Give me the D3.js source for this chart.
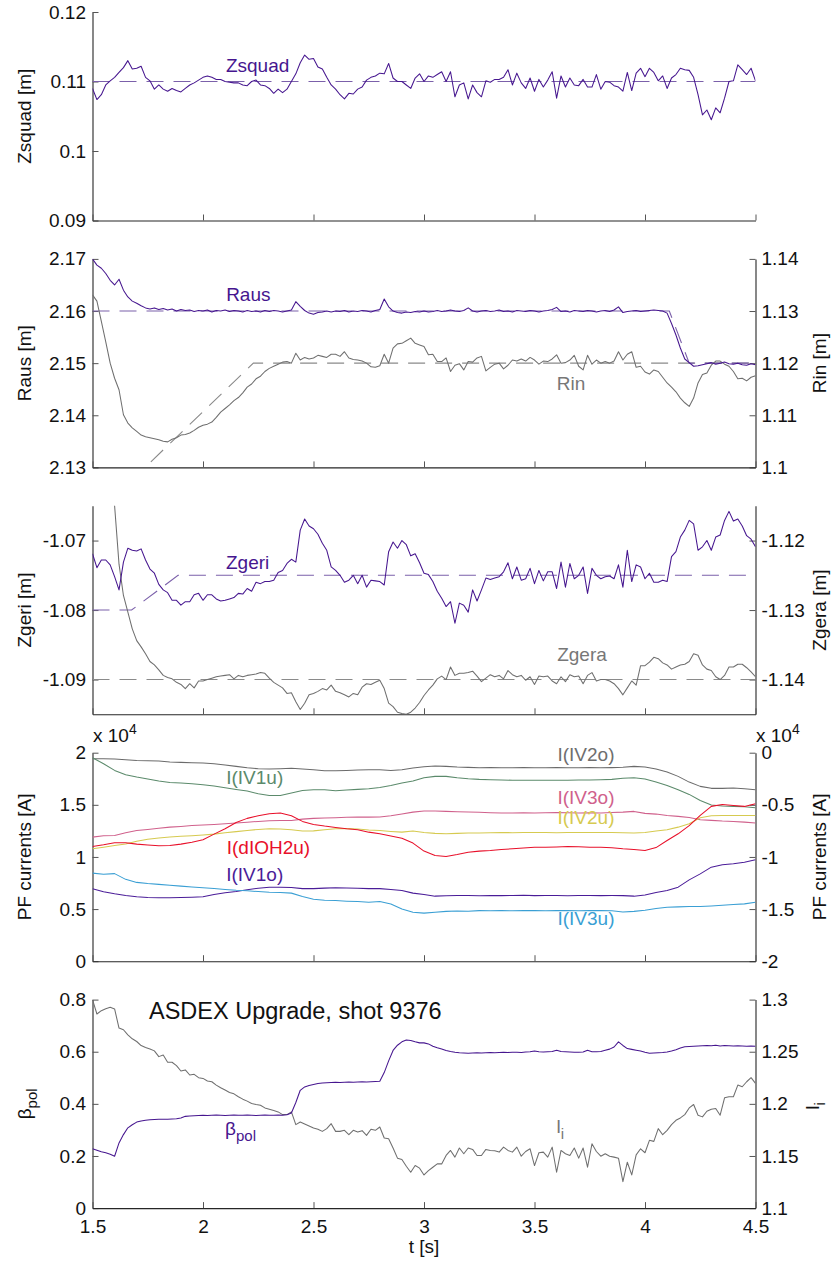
<!DOCTYPE html>
<html><head><meta charset="utf-8">
<script src="https://cdn.jsdelivr.net/npm/d3@7"></script>
<style>
body{margin:0;background:#fff}
svg{display:block}
text{font-family:"Liberation Sans",Arial,Helvetica,sans-serif}
</style>
</head><body>
<svg id="c" width="831" height="1263"></svg>
<script>
// ---------------- DATA ----------------
// time samples (s)
const tFine = d3.range(151).map(i => +(1.5 + i * 0.02).toFixed(2));
const tPF = d3.range(61).map(i => +(1.5 + i * 0.05).toFixed(2));
const xTicks = [1.5, 2, 2.5, 3, 3.5, 4, 4.5];

// Panel 1
const zsquad = [0.1090,0.1074,0.1081,0.1095,0.1101,0.1106,0.1113,0.1120,0.1130,0.1118,0.1119,0.1122,0.1106,0.1101,0.1089,0.1095,0.1089,0.1086,0.1090,0.1087,
0.1085,0.1090,0.1095,0.1098,0.1102,0.1106,0.1108,0.1106,0.1103,0.1103,0.1100,0.1099,0.1098,0.1098,0.1095,0.1094,0.1100,0.1102,0.1095,0.1094,
0.1090,0.1083,0.1089,0.1084,0.1089,0.1100,0.1111,0.1127,0.1138,0.1132,0.1133,0.1121,0.1118,0.1106,0.1095,0.1089,0.1081,0.1075,0.1083,0.1082,
0.1089,0.1092,0.1102,0.1106,0.1108,0.1112,0.1111,0.1126,0.1105,0.1100,0.1100,0.1095,0.1090,0.1105,0.1111,0.1100,0.1108,0.1106,0.1110,0.1114,
0.1100,0.1114,0.1078,0.1095,0.1098,0.1075,0.1095,0.1084,0.1078,0.1101,0.1099,0.1103,0.1103,0.1106,0.1117,0.1095,0.1112,0.1098,0.1090,0.1105,
0.1086,0.1103,0.1092,0.1102,0.1114,0.1076,0.1108,0.1092,0.1105,0.1095,0.1094,0.1103,0.1092,0.1092,0.1110,0.1089,0.1100,0.1099,0.1094,0.1092,
0.1086,0.1113,0.1087,0.1112,0.1119,0.1107,0.1119,0.1113,0.1101,0.1108,0.1090,0.1105,0.1110,0.1119,0.1117,0.1116,0.1106,0.1081,0.1052,0.1059,
0.1045,0.1062,0.1055,0.1076,0.1100,0.1101,0.1124,0.1117,0.1110,0.1119,0.1101];
const zsquadRef = [[1.5, 0.11], [4.5, 0.11]];

// Panel 2
const raus = [2.1700,2.1688,2.1682,2.1672,2.1659,2.1650,2.1661,2.1640,2.1627,2.1619,2.1615,2.1610,2.1606,2.1604,2.1606,2.1603,2.1605,2.1602,2.1604,2.1600,
2.1603,2.1601,2.1602,2.1599,2.1601,2.1600,2.1602,2.1598,2.1601,2.1600,2.1602,2.1599,2.1601,2.1600,2.1598,2.1601,2.1599,2.1600,2.1598,2.1601,
2.1599,2.1601,2.1600,2.1598,2.1600,2.1602,2.1618,2.1609,2.1601,2.1596,2.1594,2.1597,2.1598,2.1600,2.1598,2.1600,2.1599,2.1601,2.1598,2.1600,
2.1599,2.1601,2.1600,2.1598,2.1601,2.1603,2.1623,2.1608,2.1600,2.1597,2.1596,2.1598,2.1597,2.1599,2.1598,2.1600,2.1598,2.1599,2.1601,2.1599,
2.1600,2.1602,2.1600,2.1599,2.1601,2.1606,2.1600,2.1598,2.1600,2.1601,2.1599,2.1600,2.1602,2.1599,2.1600,2.1598,2.1601,2.1600,2.1599,2.1601,
2.1600,2.1598,2.1600,2.1601,2.1603,2.1607,2.1599,2.1600,2.1598,2.1601,2.1600,2.1599,2.1601,2.1600,2.1598,2.1600,2.1601,2.1599,2.1602,2.1608,
2.1597,2.1599,2.1600,2.1601,2.1599,2.1600,2.1601,2.1602,2.1601,2.1600,2.1596,2.1576,2.1554,2.1529,2.1508,2.1501,2.1494,2.1495,2.1497,2.1499,
2.1501,2.1498,2.1500,2.1502,2.1499,2.1498,2.1500,2.1497,2.1496,2.1499,2.1497];
const rin = [1.1331,1.1319,1.1280,1.1241,1.1200,1.1171,1.1149,1.1101,1.1085,1.1076,1.1069,1.1062,1.1059,1.1057,1.1055,1.1053,1.1050,1.1049,1.1054,1.1057,
1.1062,1.1063,1.1066,1.1071,1.1077,1.1081,1.1083,1.1087,1.1096,1.1106,1.1113,1.1120,1.1128,1.1134,1.1143,1.1154,1.1160,1.1170,1.1175,1.1184,
1.1190,1.1194,1.1198,1.1202,1.1203,1.1200,1.1219,1.1206,1.1211,1.1208,1.1210,1.1215,1.1213,1.1211,1.1217,1.1217,1.1213,1.1222,1.1210,1.1207,
1.1206,1.1204,1.1200,1.1193,1.1192,1.1195,1.1217,1.1200,1.1229,1.1237,1.1238,1.1243,1.1248,1.1238,1.1235,1.1232,1.1216,1.1217,1.1203,1.1203,
1.1210,1.1184,1.1196,1.1199,1.1187,1.1203,1.1202,1.1210,1.1213,1.1185,1.1192,1.1198,1.1200,1.1189,1.1196,1.1206,1.1204,1.1208,1.1204,1.1211,
1.1206,1.1198,1.1204,1.1203,1.1208,1.1216,1.1200,1.1201,1.1206,1.1215,1.1194,1.1187,1.1215,1.1198,1.1206,1.1200,1.1203,1.1200,1.1204,1.1222,
1.1206,1.1217,1.1222,1.1192,1.1194,1.1183,1.1179,1.1187,1.1184,1.1173,1.1162,1.1154,1.1145,1.1133,1.1124,1.1117,1.1133,1.1162,1.1178,1.1181,
1.1196,1.1204,1.1204,1.1198,1.1194,1.1184,1.1170,1.1171,1.1166,1.1173,1.1176];
const rausRef = [[1.5, 2.16], [4.11, 2.16], [4.2, 2.15], [4.5, 2.15]];
const rinRef = [[1.5, 1.0903], [2.228, 1.12], [4.5, 1.12]];

// Panel 3
const zgeri = [-1.0719,-1.0739,-1.0728,-1.0728,-1.0735,-1.0752,-1.0771,-1.0731,-1.0711,-1.0714,-1.0715,-1.0712,-1.0728,-1.0741,-1.0747,-1.0763,-1.0771,-1.0775,-1.0786,-1.0786,
-1.0793,-1.0788,-1.0788,-1.0778,-1.0776,-1.0786,-1.0778,-1.0778,-1.0784,-1.0787,-1.0786,-1.0784,-1.0782,-1.0776,-1.0777,-1.0769,-1.0773,-1.0760,-1.0762,-1.0759,
-1.0759,-1.0757,-1.0746,-1.0743,-1.0733,-1.0727,-1.0731,-1.0685,-1.0669,-1.0679,-1.0683,-1.0691,-1.0704,-1.0714,-1.0738,-1.0743,-1.0750,-1.0760,-1.0757,-1.0750,
-1.0762,-1.0750,-1.0767,-1.0757,-1.0758,-1.0759,-1.0764,-1.0716,-1.0702,-1.0711,-1.0700,-1.0706,-1.0722,-1.0719,-1.0732,-1.0747,-1.0749,-1.0759,-1.0773,-1.0783,
-1.0795,-1.0788,-1.0819,-1.0790,-1.0793,-1.0803,-1.0771,-1.0787,-1.0771,-1.0754,-1.0756,-1.0754,-1.0752,-1.0745,-1.0732,-1.0755,-1.0738,-1.0757,-1.0755,-1.0740,
-1.0762,-1.0743,-1.0758,-1.0745,-1.0745,-1.0769,-1.0731,-1.0767,-1.0733,-1.0755,-1.0750,-1.0738,-1.0776,-1.0740,-1.0750,-1.0755,-1.0752,-1.0751,-1.0755,-1.0735,
-1.0767,-1.0714,-1.0759,-1.0735,-1.0738,-1.0755,-1.0747,-1.0760,-1.0760,-1.0757,-1.0759,-1.0723,-1.0716,-1.0695,-1.0685,-1.0671,-1.0676,-1.0714,-1.0709,-1.0700,
-1.0714,-1.0695,-1.0692,-1.0671,-1.0658,-1.0672,-1.0669,-1.0679,-1.0693,-1.0698,-1.0709];
const zgera = [-1.1000,-1.1040,-1.1080,-1.1110,-1.1130,-1.1150,-1.1234,-1.1279,-1.1303,-1.1327,-1.1344,-1.1353,-1.1363,-1.1374,-1.1379,-1.1386,-1.1394,-1.1397,-1.1399,-1.1404,
-1.1407,-1.1413,-1.1406,-1.1412,-1.1402,-1.1402,-1.1400,-1.1398,-1.1396,-1.1395,-1.1394,-1.1393,-1.1399,-1.1394,-1.1396,-1.1394,-1.1393,-1.1392,-1.1390,-1.1391,
-1.1398,-1.1404,-1.1408,-1.1412,-1.1420,-1.1419,-1.1432,-1.1443,-1.1434,-1.1422,-1.1420,-1.1417,-1.1413,-1.1415,-1.1408,-1.1417,-1.1419,-1.1422,-1.1425,-1.1420,
-1.1422,-1.1411,-1.1406,-1.1407,-1.1404,-1.1401,-1.1413,-1.1434,-1.1439,-1.1447,-1.1449,-1.1450,-1.1447,-1.1441,-1.1433,-1.1423,-1.1415,-1.1408,-1.1399,-1.1395,
-1.1400,-1.1382,-1.1394,-1.1391,-1.1391,-1.1390,-1.1388,-1.1395,-1.1403,-1.1398,-1.1393,-1.1396,-1.1394,-1.1399,-1.1387,-1.1393,-1.1396,-1.1394,-1.1401,-1.1396,
-1.1407,-1.1395,-1.1396,-1.1395,-1.1402,-1.1406,-1.1396,-1.1403,-1.1393,-1.1396,-1.1395,-1.1406,-1.1394,-1.1390,-1.1402,-1.1400,-1.1400,-1.1402,-1.1406,-1.1413,
-1.1422,-1.1412,-1.1402,-1.1408,-1.1380,-1.1380,-1.1375,-1.1368,-1.1370,-1.1376,-1.1379,-1.1385,-1.1382,-1.1379,-1.1378,-1.1374,-1.1363,-1.1365,-1.1379,-1.1385,
-1.1387,-1.1396,-1.1400,-1.1394,-1.1382,-1.1382,-1.1378,-1.1378,-1.1383,-1.1389,-1.1396];
const zgeriRef = [[1.5, -1.08], [1.677, -1.08], [1.887, -1.075], [4.5, -1.075]];
const zgeraRef = [[1.5, -1.14], [4.5, -1.14]];

// Panel 4 (units of 10^4 A)
const iIV2o = [-0.058,-0.058,-0.061,-0.067,-0.074,-0.077,-0.080,-0.090,-0.093,-0.096,-0.099,-0.106,-0.118,-0.131,-0.144,-0.154,-0.157,-0.154,-0.150,-0.157,
-0.163,-0.173,-0.173,-0.170,-0.166,-0.163,-0.163,-0.170,-0.163,-0.147,-0.134,-0.128,-0.131,-0.138,-0.141,-0.144,-0.143,-0.145,-0.144,-0.142,
-0.144,-0.145,-0.143,-0.144,-0.144,-0.142,-0.144,-0.143,-0.140,-0.131,-0.138,-0.157,-0.186,-0.227,-0.282,-0.323,-0.342,-0.342,-0.339,-0.346,-0.355];
const iIV1u = [1.952,1.894,1.830,1.789,1.766,1.747,1.728,1.715,1.709,1.702,1.693,1.680,1.664,1.648,1.632,1.606,1.590,1.590,1.613,1.638,
1.645,1.645,1.635,1.642,1.648,1.654,1.667,1.686,1.709,1.728,1.760,1.773,1.773,1.760,1.750,1.744,1.741,1.738,1.736,1.735,
1.735,1.736,1.735,1.736,1.738,1.738,1.741,1.744,1.754,1.760,1.747,1.718,1.686,1.645,1.600,1.542,1.498,1.488,1.485,1.482,1.472];
const iIV3o = [-0.810,-0.797,-0.794,-0.768,-0.746,-0.736,-0.725,-0.714,-0.707,-0.699,-0.694,-0.688,-0.682,-0.675,-0.667,-0.659,-0.653,-0.650,-0.650,-0.637,
-0.630,-0.627,-0.624,-0.620,-0.618,-0.618,-0.616,-0.605,-0.587,-0.570,-0.560,-0.560,-0.563,-0.566,-0.569,-0.572,-0.576,-0.579,-0.579,-0.577,
-0.579,-0.576,-0.573,-0.576,-0.579,-0.576,-0.579,-0.573,-0.570,-0.563,-0.582,-0.589,-0.602,-0.611,-0.621,-0.643,-0.649,-0.656,-0.659,-0.666,-0.675];
const iIV2u = [-0.922,-0.906,-0.890,-0.875,-0.850,-0.830,-0.818,-0.808,-0.802,-0.797,-0.790,-0.781,-0.768,-0.757,-0.746,-0.736,-0.730,-0.732,-0.740,-0.752,
-0.750,-0.740,-0.730,-0.727,-0.732,-0.742,-0.746,-0.755,-0.762,-0.752,-0.765,-0.774,-0.778,-0.774,-0.771,-0.770,-0.768,-0.766,-0.767,-0.766,
-0.765,-0.766,-0.767,-0.766,-0.765,-0.766,-0.766,-0.766,-0.768,-0.771,-0.765,-0.752,-0.739,-0.714,-0.682,-0.624,-0.605,-0.602,-0.602,-0.602,-0.602];
const iDIOH2u = [1.101,1.117,1.136,1.136,1.123,1.114,1.107,1.110,1.123,1.142,1.165,1.219,1.270,1.331,1.370,1.395,1.414,1.421,1.395,1.341,
1.312,1.296,1.283,1.270,1.261,1.238,1.222,1.200,1.180,1.133,1.056,1.014,1.005,1.024,1.046,1.056,1.062,1.072,1.078,1.086,
1.094,1.094,1.096,1.100,1.097,1.094,1.094,1.088,1.078,1.072,1.062,1.090,1.158,1.222,1.300,1.398,1.485,1.504,1.494,1.485,1.510];
const iIV1o = [0.694,0.666,0.646,0.630,0.618,0.611,0.608,0.608,0.611,0.614,0.618,0.640,0.656,0.668,0.685,0.700,0.710,0.710,0.707,0.696,
0.696,0.701,0.704,0.703,0.700,0.696,0.696,0.688,0.678,0.653,0.640,0.624,0.627,0.630,0.630,0.628,0.631,0.629,0.630,0.632,
0.629,0.630,0.631,0.628,0.630,0.631,0.629,0.630,0.629,0.624,0.635,0.660,0.678,0.710,0.780,0.838,0.902,0.925,0.934,0.950,0.973];
const iIV3u = [-1.155,-1.166,-1.160,-1.215,-1.244,-1.255,-1.263,-1.272,-1.280,-1.289,-1.296,-1.303,-1.312,-1.320,-1.325,-1.332,-1.338,-1.341,-1.347,-1.380,
-1.405,-1.415,-1.418,-1.424,-1.428,-1.434,-1.428,-1.452,-1.500,-1.530,-1.539,-1.530,-1.522,-1.518,-1.520,-1.515,-1.517,-1.514,-1.516,-1.515,
-1.513,-1.516,-1.515,-1.514,-1.516,-1.515,-1.514,-1.516,-1.528,-1.522,-1.512,-1.495,-1.482,-1.479,-1.476,-1.475,-1.470,-1.463,-1.456,-1.450,-1.434];

// Panel 5
const betaPol = [0.228,0.222,0.216,0.212,0.207,0.199,0.250,0.282,0.308,0.320,0.330,0.334,0.337,0.339,0.340,0.341,0.341,0.341,0.342,0.343,
0.346,0.352,0.353,0.354,0.355,0.356,0.355,0.356,0.357,0.356,0.355,0.356,0.357,0.356,0.356,0.357,0.356,0.355,0.356,0.357,
0.356,0.356,0.357,0.356,0.358,0.365,0.405,0.452,0.465,0.470,0.474,0.478,0.480,0.481,0.482,0.483,0.482,0.483,0.484,0.483,
0.484,0.485,0.484,0.485,0.486,0.487,0.520,0.565,0.605,0.625,0.638,0.645,0.643,0.638,0.634,0.634,0.630,0.621,0.615,0.610,
0.605,0.601,0.598,0.596,0.595,0.594,0.595,0.596,0.595,0.596,0.597,0.596,0.597,0.598,0.597,0.598,0.598,0.597,0.599,0.600,
0.603,0.600,0.599,0.600,0.601,0.606,0.601,0.600,0.599,0.598,0.598,0.599,0.606,0.600,0.600,0.601,0.606,0.610,0.618,0.638,
0.624,0.612,0.609,0.606,0.603,0.598,0.594,0.595,0.596,0.597,0.599,0.603,0.608,0.614,0.619,0.620,0.621,0.622,0.623,0.624,
0.623,0.625,0.622,0.624,0.623,0.622,0.623,0.622,0.621,0.622,0.621];
const li = [1.3000,1.2862,1.2894,1.2913,1.2926,1.2910,1.2727,1.2711,1.2662,1.2624,1.2598,1.2559,1.2540,1.2527,1.2508,1.2453,1.2469,1.2399,1.2399,1.2367,
1.2315,1.2325,1.2277,1.2283,1.2251,1.2244,1.2219,1.2212,1.2180,1.2154,1.2132,1.2109,1.2096,1.2068,1.2045,1.2026,1.2003,1.1994,1.1987,1.1961,
1.1949,1.1936,1.1923,1.1897,1.1897,1.1923,1.1801,1.1826,1.1807,1.1788,1.1768,1.1756,1.1736,1.1762,1.1810,1.1736,1.1736,1.1746,1.1704,1.1746,
1.1730,1.1743,1.1698,1.1756,1.1746,1.1778,1.1672,1.1666,1.1576,1.1479,1.1466,1.1402,1.1344,1.1408,1.1383,1.1318,1.1360,1.1392,1.1424,1.1424,
1.1505,1.1553,1.1489,1.1576,1.1521,1.1576,1.1563,1.1505,1.1505,1.1563,1.1553,1.1550,1.1537,1.1585,1.1553,1.1537,1.1585,1.1498,1.1543,1.1569,
1.1408,1.1531,1.1537,1.1489,1.1585,1.1344,1.1553,1.1521,1.1505,1.1576,1.1479,1.1576,1.1392,1.1617,1.1543,1.1498,1.1521,1.1498,1.1489,1.1479,
1.1254,1.1440,1.1318,1.1511,1.1569,1.1531,1.1650,1.1640,1.1762,1.1704,1.1746,1.1801,1.1842,1.1865,1.1897,1.1961,1.1994,1.1891,1.1875,1.1929,
1.1949,1.1955,1.1891,1.2058,1.2068,1.2068,1.2180,1.2164,1.2212,1.2251,1.2196];

// Tick values per panel
const ticksZsquad = [0.09, 0.1, 0.11, 0.12];
const ticksRaus = [2.13, 2.14, 2.15, 2.16, 2.17];
const ticksRin = [1.1, 1.11, 1.12, 1.13, 1.14];
const ticksZgeri = [-1.09, -1.08, -1.07];
const ticksZgera = [-1.14, -1.13, -1.12];
const ticksPFL = [0, 0.5, 1, 1.5, 2];
const ticksPFR = [-2, -1.5, -1, -0.5, 0];
const ticksBeta = [0, 0.2, 0.4, 0.6, 0.8];
const ticksLi = [1.1, 1.15, 1.2, 1.25, 1.3];

// ---------------- STYLE / LAYOUT ----------------
const PURPLE = '#46168f', GRAY = '#6f6f6f', PURPLE_D = '#7b60aa', GRAY_D = '#8a8a8a';
const C = {IV2o:'#6b6b6b', IV1u:'#5b8a6b', IV3o:'#d0618c', IV2u:'#d6ca50', dIOH2u:'#e8102a', IV1o:'#4a1c98', IV3u:'#3a9fd4'};
const L = 92.5, R = 755.5, PH = 208.5;
const FS = 19;

const panels = [
  {top:12,    yL:[0.09,0.12],     tL:ticksZsquad, lab:'Zsquad [m]'},
  {top:258.9, yL:[2.13,2.17],     tL:ticksRaus,   lab:'Raus [m]',  yR:[1.1,1.14],     tR:ticksRin,   labR:'Rin [m]'},
  {top:505.8, yL:[-1.095,-1.065], tL:ticksZgeri,  lab:'Zgeri [m]', yR:[-1.145,-1.115], tR:ticksZgera, labR:'Zgera [m]'},
  {top:752.7, yL:[0,2],           tL:ticksPFL,    lab:'PF currents [A]', yR:[-2,0], tR:ticksPFR, labR:'PF currents [A]', exp:true},
  {top:999.6, yL:[0,0.8],         tL:ticksBeta,   lab:null, yR:[1.1,1.3], tR:ticksLi, labR:null, last:true}
];

const svg = d3.select('#c');
const x = d3.scaleLinear().domain([1.5, 4.5]).range([L, R]);

panels.forEach((p, i) => {
  p.sL = d3.scaleLinear().domain(p.yL).range([p.top + PH, p.top]);
  if (p.yR) p.sR = d3.scaleLinear().domain(p.yR).range([p.top + PH, p.top]);
  svg.append('clipPath').attr('id', 'clip' + i)
    .append('rect').attr('x', L).attr('y', p.top).attr('width', R - L).attr('height', PH);
});

function styleAxis(g) {
  g.attr('font-family', '"Liberation Sans",Arial,sans-serif').attr('font-size', FS);
  g.select('.domain').attr('stroke', '#262626').attr('stroke-width', 1.1);
  g.selectAll('.tick line').attr('stroke', '#555').attr('stroke-width', 1);
  g.selectAll('.tick text').attr('fill', '#111');
}

// axes
panels.forEach((p, i) => {
  const gl = svg.append('g').attr('transform', `translate(${L},0)`)
    .call(d3.axisLeft(p.sL).tickValues(p.tL).tickFormat(d => String(d)).tickSizeInner(-6).tickSizeOuter(0).tickPadding(6.5));
  styleAxis(gl);
  if (p.sR) {
    const gr = svg.append('g').attr('transform', `translate(${R},0)`)
      .call(d3.axisRight(p.sR).tickValues(p.tR).tickFormat(d => String(d)).tickSizeInner(-6).tickSizeOuter(0).tickPadding(6));
    styleAxis(gr);
  }
  const gb = svg.append('g').attr('transform', `translate(0,${p.top + PH})`)
    .call(d3.axisBottom(x).tickValues(xTicks).tickFormat(p.last ? (d => String(d)) : () => '').tickSizeInner(-6).tickSizeOuter(0).tickPadding(11));
  styleAxis(gb);
  // axis labels
  const yc = p.top + PH / 2;
  if (p.lab) {
    svg.append('text').attr('transform', `translate(30.5,${yc}) rotate(-90)`)
      .attr('text-anchor', 'middle').attr('font-size', FS).attr('fill', '#111').text(p.lab);
  }
  if (p.labR) {
    svg.append('text').attr('transform', `translate(825.5,${yc}) rotate(-90)`)
      .attr('text-anchor', 'middle').attr('font-size', FS).attr('fill', '#111').text(p.labR);
  }
  if (p.exp) {
    [L + 0.5, R + 0.5].forEach(xx => {
      const t = svg.append('text').attr('x', xx).attr('y', p.top - 11).attr('font-size', FS).attr('fill', '#111');
      t.append('tspan').text('x 10');
      t.append('tspan').attr('dy', -8).attr('font-size', 14).text('4');
    });
  }
});

// beta_pol axis label & l_i axis label
{
  const p = panels[4], yc = p.top + PH / 2;
  const t = svg.append('text').attr('transform', `translate(30.5,${yc}) rotate(-90)`)
    .attr('text-anchor', 'middle').attr('font-size', FS).attr('fill', '#111');
  t.append('tspan').text('β');
  t.append('tspan').attr('dy', 6).attr('font-size', 15).text('pol');
  const t2 = svg.append('text').attr('transform', `translate(819,${yc + 2}) rotate(-90)`)
    .attr('text-anchor', 'middle').attr('font-size', FS).attr('fill', '#111');
  t2.append('tspan').text('l');
  t2.append('tspan').attr('dy', 6).attr('font-size', 15).text('i');
}

// ---------------- LINES ----------------
function drawSeries(pi, side, times, vals, color, width) {
  const p = panels[pi], y = side === 'R' ? p.sR : p.sL;
  const line = d3.line().x((d, i) => x(times[i])).y(d => y(d));
  svg.append('path').attr('clip-path', `url(#clip${pi})`)
    .attr('d', line(vals)).attr('fill', 'none').attr('stroke', color)
    .attr('stroke-width', width || 1.05).attr('stroke-linejoin', 'round');
}
function drawRef(pi, side, pts, color) {
  const p = panels[pi], y = side === 'R' ? p.sR : p.sL;
  const line = d3.line().x(d => x(d[0])).y(d => y(d[1]));
  svg.append('path').attr('clip-path', `url(#clip${pi})`)
    .attr('d', line(pts)).attr('fill', 'none').attr('stroke', color)
    .attr('stroke-width', 1.1).attr('stroke-dasharray', '17,10');
}

drawRef(0, 'L', zsquadRef, PURPLE_D);
drawSeries(0, 'L', tFine, zsquad, PURPLE);

drawRef(1, 'R', rinRef, GRAY_D);
drawRef(1, 'L', rausRef, PURPLE_D);
drawSeries(1, 'R', tFine, rin, GRAY);
drawSeries(1, 'L', tFine, raus, PURPLE);

drawRef(2, 'R', zgeraRef, GRAY_D);
drawRef(2, 'L', zgeriRef, PURPLE_D);
drawSeries(2, 'R', tFine, zgera, GRAY);
drawSeries(2, 'L', tFine, zgeri, PURPLE);

drawSeries(3, 'R', tPF, iIV2o, C.IV2o);
drawSeries(3, 'L', tPF, iIV1u, C.IV1u);
drawSeries(3, 'R', tPF, iIV3o, C.IV3o);
drawSeries(3, 'R', tPF, iIV2u, C.IV2u);
drawSeries(3, 'L', tPF, iDIOH2u, C.dIOH2u);
drawSeries(3, 'L', tPF, iIV1o, C.IV1o);
drawSeries(3, 'R', tPF, iIV3u, C.IV3u);

drawSeries(4, 'R', tFine, li, GRAY);
drawSeries(4, 'L', tFine, betaPol, PURPLE);

// ---------------- ANNOTATIONS ----------------
const notes = [
  {pi:0, side:'L', t:2.247, v:0.1114,  txt:'Zsquad',    col:PURPLE},
  {pi:1, side:'L', t:2.205, v:2.1619,  txt:'Raus',      col:PURPLE},
  {pi:1, side:'R', t:3.665, v:1.1148,  txt:'Rin',       col:'#777'},
  {pi:2, side:'L', t:2.202, v:-1.0741, txt:'Zgeri',     col:PURPLE},
  {pi:2, side:'R', t:3.715, v:-1.1374, txt:'Zgera',     col:'#777'},
  {pi:3, side:'R', t:3.733, v:-0.077,  txt:'I(IV2o)',   col:'#6e6e6e'},
  {pi:3, side:'L', t:2.234, v:1.703,   txt:'I(IV1u)',   col:C.IV1u},
  {pi:3, side:'R', t:3.733, v:-0.49,   txt:'I(IV3o)',   col:C.IV3o},
  {pi:3, side:'R', t:3.733, v:-0.685,  txt:'I(IV2u)',   col:C.IV2u},
  {pi:3, side:'L', t:2.296, v:1.024,   txt:'I(dIOH2u)', col:C.dIOH2u},
  {pi:3, side:'L', t:2.234, v:0.766,   txt:'I(IV1o)',   col:C.IV1o},
  {pi:3, side:'R', t:3.733, v:-1.656,  txt:'I(IV3u)',   col:C.IV3u}
];
notes.forEach(n => {
  const p = panels[n.pi], y = n.side === 'R' ? p.sR : p.sL;
  svg.append('text').attr('x', x(n.t)).attr('y', y(n.v)).attr('text-anchor', 'middle')
    .attr('font-size', FS).attr('fill', n.col).text(n.txt);
});
{
  const p = panels[4];
  const tb = svg.append('text').attr('x', x(2.17)).attr('y', p.sL(0.2795)).attr('text-anchor', 'middle')
    .attr('font-size', FS).attr('fill', PURPLE);
  tb.append('tspan').text('β');
  tb.append('tspan').attr('dy', 6).attr('font-size', 15).text('pol');
  const tl = svg.append('text').attr('x', x(3.60)).attr('y', p.sR(1.1718)).attr('text-anchor', 'start')
    .attr('font-size', FS).attr('fill', '#777');
  tl.append('tspan').text('l');
  tl.append('tspan').attr('dy', 6).attr('font-size', 15).text('i');
  svg.append('text').attr('x', 149).attr('y', 1019).attr('font-size', 23.5).attr('fill', '#111')
    .text('ASDEX Upgrade, shot 9376');
  svg.append('text').attr('x', x(3)).attr('y', 1253).attr('text-anchor', 'middle')
    .attr('font-size', FS).attr('fill', '#111').text('t [s]');
}
</script>
</body></html>
